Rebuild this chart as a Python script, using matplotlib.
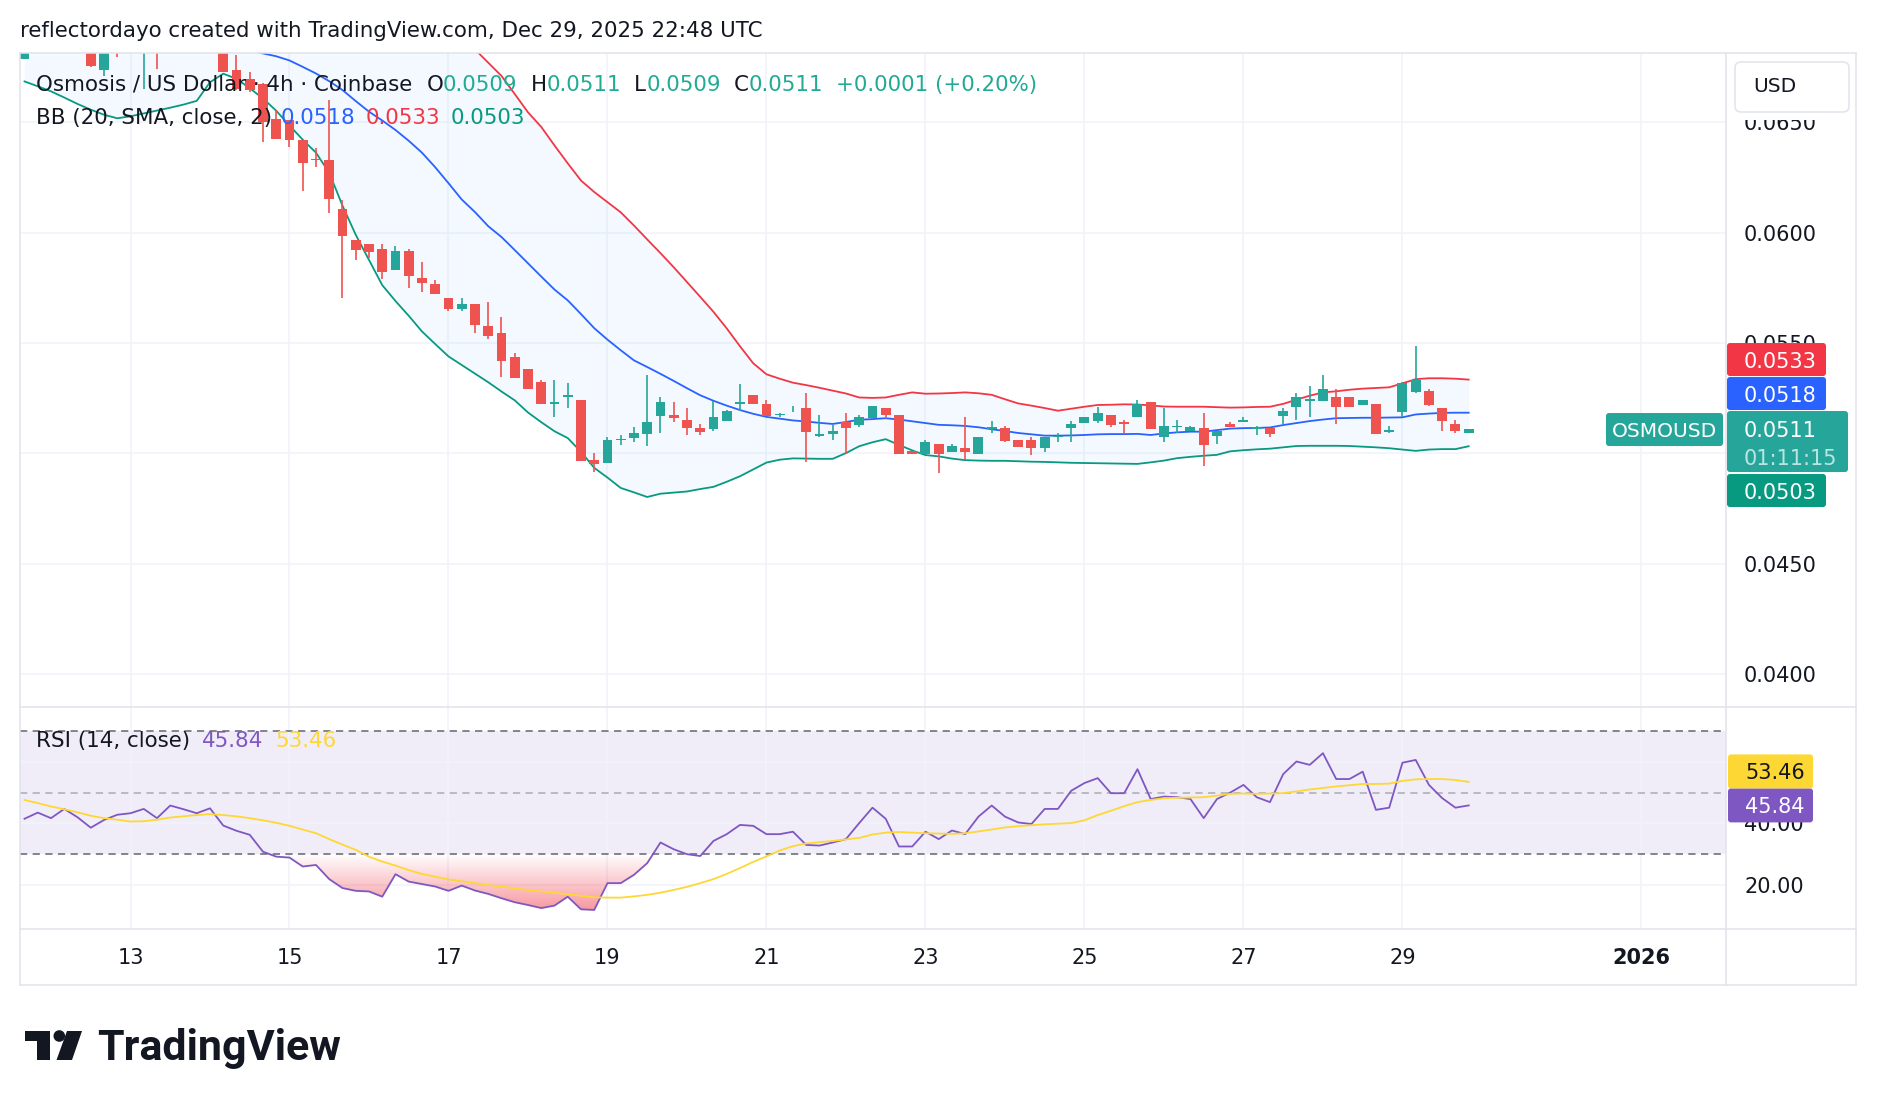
import numpy as np
import pandas as pd
import matplotlib
matplotlib.use("Agg")
import matplotlib.pyplot as plt
from matplotlib.patches import Rectangle, FancyBboxPatch, Circle, Polygon
from matplotlib.colors import LinearSegmentedColormap
from matplotlib.path import Path

# OSMOUSD 4h candles (Coinbase), first bar Dec 11 16:00 UTC
start = pd.Timestamp("2025-12-11 16:00")

opens = [0.06788, 0.0684, 0.0688, 0.0686, 0.0689, 0.0685, 0.06735, 0.0686, 0.0682, 0.0683,
         0.0688, 0.0683, 0.0687, 0.0685, 0.0689, 0.0686, 0.06738, 0.06697, 0.06675, 0.06516,
         0.06509, 0.06418, 0.06335, 0.06328, 0.06106, 0.05966, 0.05948, 0.05924, 0.0583, 0.05916,
         0.05794, 0.05765, 0.05702, 0.05652, 0.05676, 0.05576, 0.05543, 0.05435, 0.05381, 0.05324,
         0.05224, 0.05254, 0.05242, 0.0497, 0.04958, 0.05059, 0.05068, 0.05088, 0.05171, 0.05174,
         0.05151, 0.05114, 0.0511, 0.05148, 0.05222, 0.05264, 0.05224, 0.05172, 0.05185, 0.05204,
         0.05079, 0.05088, 0.05141, 0.05128, 0.05159, 0.05204, 0.05174, 0.05011, 0.04997, 0.05043,
         0.05008, 0.05026, 0.04997, 0.05112, 0.05114, 0.05061, 0.05061, 0.05023, 0.05073, 0.05114,
         0.05139, 0.05148, 0.05174, 0.05143, 0.05163, 0.05232, 0.05072, 0.05118, 0.05100, 0.05114,
         0.05079, 0.05133, 0.0514, 0.05112, 0.05116, 0.05169, 0.05211, 0.05239, 0.05239, 0.05254,
         0.05254, 0.05219, 0.05224, 0.05098, 0.05189, 0.05279, 0.05282, 0.05204, 0.05133, 0.0509]
highs = [0.0688, 0.0690, 0.0693, 0.0691, 0.0692, 0.0688, 0.0686, 0.0689, 0.0690, 0.0692,
         0.0691, 0.0690, 0.0693, 0.0692, 0.0691, 0.0689, 0.06803, 0.06727, 0.0668, 0.06554,
         0.06509, 0.06418, 0.06385, 0.06599, 0.06147, 0.05966, 0.05948, 0.05948, 0.05938, 0.05924,
         0.05867, 0.05785, 0.05702, 0.05702, 0.05676, 0.05684, 0.05616, 0.05453, 0.05381, 0.05332,
         0.05332, 0.05317, 0.05242, 0.05003, 0.05076, 0.05083, 0.05121, 0.05355, 0.05256, 0.05231,
         0.05204, 0.05133, 0.05238, 0.05195, 0.05314, 0.05266, 0.05242, 0.05184, 0.05214, 0.05272,
         0.05174, 0.05129, 0.05182, 0.05174, 0.05214, 0.05204, 0.05174, 0.05011, 0.05061, 0.05043,
         0.05043, 0.05163, 0.05073, 0.05148, 0.05124, 0.05061, 0.05073, 0.05073, 0.05094, 0.05148,
         0.05163, 0.0521, 0.05174, 0.05151, 0.05242, 0.05232, 0.05206, 0.0515, 0.05124, 0.05184,
         0.05101, 0.05143, 0.05166, 0.05124, 0.05116, 0.05204, 0.05275, 0.05305, 0.05355, 0.0529,
         0.05254, 0.05242, 0.05224, 0.05124, 0.05324, 0.05486, 0.0529, 0.05204, 0.05151, 0.0511]
lows = [0.06785, 0.0682, 0.0684, 0.0683, 0.0684, 0.06752, 0.0671, 0.06794, 0.0682, 0.0665,
        0.06743, 0.0682, 0.0683, 0.0683, 0.0683, 0.06727, 0.06644, 0.06637, 0.0641, 0.06423,
        0.06388, 0.06189, 0.06297, 0.06089, 0.05705, 0.05875, 0.05883, 0.05788, 0.0583, 0.05747,
        0.05729, 0.05721, 0.05646, 0.05646, 0.05546, 0.05516, 0.05347, 0.05343, 0.0529, 0.05222,
        0.05166, 0.05207, 0.04967, 0.04917, 0.04958, 0.05038, 0.05053, 0.05034, 0.05094, 0.05143,
        0.05083, 0.05083, 0.05103, 0.05146, 0.05193, 0.05222, 0.05171, 0.05166, 0.05185, 0.04962,
        0.05076, 0.05061, 0.0500, 0.05121, 0.05159, 0.05163, 0.04997, 0.04997, 0.04997, 0.04913,
        0.05008, 0.0497, 0.04997, 0.05094, 0.05053, 0.0503, 0.04993, 0.05008, 0.05053, 0.05053,
        0.05139, 0.05139, 0.05118, 0.05094, 0.05163, 0.05112, 0.05053, 0.05094, 0.05100, 0.04943,
        0.05043, 0.05118, 0.0514, 0.05083, 0.05073, 0.05133, 0.05151, 0.05166, 0.05239, 0.05133,
        0.05211, 0.05219, 0.05088, 0.05094, 0.05163, 0.05275, 0.05214, 0.05103, 0.05094, 0.0509]
closes = [0.0684, 0.0688, 0.0686, 0.0689, 0.0685, 0.06755, 0.0683, 0.0682, 0.0687, 0.0688,
          0.0683, 0.0687, 0.0685, 0.0689, 0.0686, 0.06727, 0.06652, 0.06644, 0.06501, 0.06423,
          0.06418, 0.06315, 0.06328, 0.06151, 0.05985, 0.05923, 0.05913, 0.05822, 0.05916, 0.05804,
          0.05772, 0.05721, 0.05652, 0.05675, 0.05581, 0.05533, 0.0542, 0.05343, 0.0529, 0.05222,
          0.05234, 0.05264, 0.04967, 0.04952, 0.05061, 0.05067, 0.05094, 0.05142, 0.05231, 0.05159,
          0.05114, 0.05095, 0.05163, 0.05192, 0.05231, 0.05222, 0.05171, 0.05178, 0.05188, 0.05098,
          0.05088, 0.05103, 0.05113, 0.05163, 0.05214, 0.05174, 0.04997, 0.04997, 0.05053, 0.04997,
          0.05034, 0.05008, 0.05073, 0.05121, 0.05057, 0.0503, 0.05023, 0.05073, 0.05079, 0.05133,
          0.05163, 0.05184, 0.05128, 0.05133, 0.05224, 0.05112, 0.05124, 0.05124, 0.05117, 0.05038,
          0.05101, 0.05118, 0.05151, 0.05121, 0.05088, 0.05193, 0.05254, 0.05246, 0.0529, 0.05211,
          0.05211, 0.05242, 0.05088, 0.05106, 0.05317, 0.05332, 0.05219, 0.05148, 0.0510, 0.0511]

# Bollinger Bands (20, SMA, close, 2) as drawn
bb_upper = [0.0711, 0.0714, 0.0718, 0.0721, 0.0724, 0.0726, 0.0727, 0.0728, 0.0727, 0.0726,
            0.0725, 0.0723, 0.0722, 0.0718, 0.0708, 0.0700, 0.0699, 0.0700, 0.0701, 0.0705,
            0.0708, 0.0708, 0.0708, 0.0710, 0.0717, 0.0720, 0.0722, 0.0725, 0.0724, 0.0721,
            0.0717, 0.0710, 0.0701, 0.0690, 0.06830, 0.06770, 0.06710, 0.06628, 0.06545, 0.06479,
            0.06395, 0.06314, 0.06236, 0.06184, 0.06138, 0.06092, 0.06032, 0.05969, 0.05907, 0.05843,
            0.05776, 0.05709, 0.05641, 0.05566, 0.05485, 0.05408, 0.05358, 0.05338, 0.05320, 0.05309,
            0.05297, 0.05284, 0.05271, 0.05253, 0.05251, 0.05253, 0.05265, 0.05276, 0.05270, 0.05271,
            0.05273, 0.05276, 0.05272, 0.05265, 0.05245, 0.05226, 0.05216, 0.05205, 0.05193, 0.05202,
            0.05211, 0.05219, 0.05220, 0.05222, 0.05221, 0.05217, 0.05212, 0.05211, 0.05211, 0.05211,
            0.05209, 0.05207, 0.05208, 0.05210, 0.05211, 0.05224, 0.05243, 0.05261, 0.05276, 0.05281,
            0.05288, 0.05293, 0.05296, 0.05299, 0.05317, 0.05336, 0.05340, 0.05340, 0.05338, 0.05334]
bb_basis = [0.0690, 0.0690, 0.0691, 0.0691, 0.0691, 0.0691, 0.0690, 0.0690, 0.0690, 0.0690,
            0.0690, 0.0690, 0.0690, 0.0689, 0.0688, 0.0686, 0.0684, 0.06825, 0.06812, 0.06799,
            0.06780, 0.06751, 0.06721, 0.06686, 0.06646, 0.06596, 0.06548, 0.06508, 0.06465, 0.06416,
            0.06362, 0.06296, 0.06224, 0.06150, 0.06093, 0.06029, 0.05980, 0.05921, 0.05861, 0.05801,
            0.05742, 0.05693, 0.05631, 0.05567, 0.05515, 0.05467, 0.05421, 0.05391, 0.05360, 0.05328,
            0.05295, 0.05263, 0.05238, 0.05216, 0.05196, 0.05179, 0.05165, 0.05157, 0.05149, 0.05144,
            0.05138, 0.05133, 0.05142, 0.05152, 0.05155, 0.05159, 0.05153, 0.05145, 0.05137, 0.05129,
            0.05127, 0.05124, 0.05118, 0.05109, 0.05101, 0.05092, 0.05086, 0.05080, 0.05080, 0.05081,
            0.05083, 0.05086, 0.05087, 0.05087, 0.05088, 0.05083, 0.05090, 0.05095, 0.05098, 0.05098,
            0.05105, 0.05112, 0.05114, 0.05115, 0.05117, 0.05128, 0.05137, 0.05146, 0.05153, 0.05159,
            0.05160, 0.05161, 0.05161, 0.05162, 0.05163, 0.05176, 0.05180, 0.05183, 0.05184, 0.05184]
bb_lower = [0.06685, 0.06663, 0.06640, 0.06612, 0.06583, 0.06557, 0.06534, 0.06518, 0.06527, 0.06540,
            0.06553, 0.06566, 0.06580, 0.06597, 0.06681, 0.06720, 0.06697, 0.06654, 0.06608, 0.06552,
            0.06485, 0.06421, 0.06362, 0.06271, 0.06122, 0.05990, 0.05876, 0.05762, 0.05690, 0.05623,
            0.05552, 0.05495, 0.05439, 0.05400, 0.05361, 0.05322, 0.05280, 0.05240, 0.05185, 0.05141,
            0.05100, 0.05069, 0.05007, 0.04934, 0.04890, 0.04843, 0.04823, 0.04802, 0.04817, 0.04822,
            0.04827, 0.04838, 0.04848, 0.04871, 0.04896, 0.04927, 0.04958, 0.04971, 0.04977, 0.04976,
            0.04975, 0.04975, 0.05001, 0.05032, 0.05050, 0.05064, 0.05038, 0.05013, 0.04992, 0.04986,
            0.04976, 0.04969, 0.04967, 0.04966, 0.04966, 0.04964, 0.04962, 0.04961, 0.04959, 0.04957,
            0.04956, 0.04955, 0.04954, 0.04953, 0.04952, 0.04959, 0.04967, 0.04978, 0.04984, 0.04989,
            0.04993, 0.05009, 0.05014, 0.05018, 0.05021, 0.05027, 0.05033, 0.05034, 0.05034, 0.05034,
            0.05033, 0.05030, 0.05027, 0.05023, 0.05017, 0.05011, 0.05017, 0.05019, 0.05019, 0.05032]

# RSI (14, close) and its moving average
rsi = [41.5, 43.5, 41.7, 44.7, 42.0, 38.6, 41.1, 42.8, 43.3, 44.7,
       41.7, 45.8, 44.6, 43.3, 44.9, 39.3, 37.6, 36.3, 30.8, 29.2,
       28.9, 26.0, 26.5, 21.9, 19.0, 18.1, 17.9, 16.2, 23.5, 21.1,
       20.3, 19.5, 18.1, 19.8, 18.2, 17.1, 15.7, 14.4, 13.5, 12.5,
       13.3, 16.2, 12.1, 11.9, 20.6, 20.6, 23.3, 27.1, 33.8, 31.6,
       30.0, 29.4, 34.3, 36.5, 39.5, 39.2, 36.5, 36.5, 37.3, 33.0,
       32.8, 33.8, 34.9, 40.1, 45.1, 41.5, 32.5, 32.5, 37.3, 34.9,
       37.7, 36.5, 42.2, 45.8, 42.2, 40.3, 39.8, 44.7, 44.7, 50.6,
       53.1, 54.7, 49.8, 49.8, 57.6, 47.9, 48.7, 48.5, 47.9, 41.7,
       47.9, 50.0, 52.5, 48.5, 46.9, 56.0, 60.1, 59.0, 62.8, 54.4,
       54.4, 56.8, 44.4, 45.1, 59.7, 60.6, 52.5, 48.2, 45.1, 45.84]
rsi_ma = [47.6, 46.6, 45.5, 44.6, 43.6, 42.5, 41.7, 41.2, 40.6, 40.7,
          41.2, 41.9, 42.3, 42.7, 43.0, 42.7, 42.3, 41.7, 41.0, 40.2,
          39.2, 38.0, 36.8, 34.9, 33.1, 31.4, 29.2, 27.6, 26.3, 24.8,
          23.6, 22.7, 21.8, 21.2, 20.6, 20.0, 19.5, 18.9, 18.4, 17.9,
          17.5, 17.0, 16.5, 16.0, 15.9, 15.9, 16.3, 16.8, 17.5, 18.4,
          19.4, 20.6, 21.9, 23.6, 25.5, 27.5, 29.3, 31.2, 32.6, 33.5,
          33.9, 34.3, 34.8, 35.3, 36.4, 37.0, 37.2, 37.0, 36.8, 36.7,
          36.6, 36.8, 37.4, 38.0, 38.7, 39.1, 39.4, 39.7, 39.9, 40.1,
          41.0, 42.7, 44.1, 45.6, 46.9, 47.6, 48.2, 48.3, 48.4, 48.5,
          49.0, 49.6, 49.7, 49.6, 49.7, 49.8, 50.4, 51.0, 51.5, 52.0,
          52.4, 52.8, 52.8, 52.9, 53.8, 54.3, 54.4, 54.4, 54.1, 53.46]

day_ticks = ["2025-12-13", "2025-12-15", "2025-12-17", "2025-12-19", "2025-12-21",
             "2025-12-23", "2025-12-25", "2025-12-27", "2025-12-29", "2026-01-01"]
day_labels = ["13", "15", "17", "19", "21", "23", "25", "27", "29", "2026"]
price_ticks = [0.0400, 0.0450, 0.0500, 0.0550, 0.0600, 0.0650]
rsi_ticks = [20, 40, 60]
countdown = "01:11:15"

# ---------------------------------------------------------------
W, H = 1878, 1106
L, R, TOP, MID, BOT, XAX, PR = 20, 1726, 53, 706.6, 929.4, 985, 1856
dark = "#131722"
up_c, dn_c = "#26A69A", "#EF5350"
grid_c, border_c = "#F0F3FA", "#E0E3EB"
FS = 15.4      # legend / header text
AFS = 15       # scale labels


def frac(x0, y0, x1, y1):
    return [x0 / W, 1 - y1 / H, (x1 - x0) / W, (y1 - y0) / H]


fig = plt.figure(figsize=(W / 100, H / 100), dpi=100)
fig.patch.set_facecolor("white")
ax = fig.add_axes(frac(L, TOP, R, MID))
rax = fig.add_axes(frac(L, MID, R, BOT))
ov = fig.add_axes([0, 0, 1, 1], zorder=10)
ov.set_xlim(0, W)
ov.set_ylim(H, 0)
ov.axis("off")

o, h, l, c = (np.array(v) for v in (opens, highs, lows, closes))
x = np.arange(len(c))
tick_x = [(pd.Timestamp(d) - start) / pd.Timedelta(hours=4) for d in day_ticks]

for a in (ax, rax):
    a.set_xlim(-0.34, 128.42)
    a.set_xticks(tick_x)
    a.tick_params(length=0, labelbottom=False, labelleft=False)
    for s in a.spines.values():
        s.set_visible(False)
    a.grid(True, color=grid_c, lw=1.1)
    a.set_axisbelow(True)
ax.set_ylim(0.038523, 0.068138)
ax.set_yticks(price_ticks)
rax.set_ylim(5.58, 77.92)
rax.set_yticks(rsi_ticks)

# Bollinger bands
ax.fill_between(x, bb_lower, bb_upper, color="#2196F3", alpha=0.05, lw=0, zorder=1)
ax.plot(x, bb_upper, color="#F23645", lw=1.3, zorder=2)
ax.plot(x, bb_basis, color="#2962FF", lw=1.3, zorder=2)
ax.plot(x, bb_lower, color="#089981", lw=1.3, zorder=2)

# candles
col = np.where(c >= o, up_c, dn_c)
ax.vlines(x, l, h, colors=col, lw=1.2, zorder=3)
body = np.maximum(np.abs(c - o), 0.00004)
ax.bar(x, body, bottom=np.minimum(o, c), width=0.75, color=col, lw=0, zorder=4)

# RSI pane
r_arr = np.array(rsi)
rax.axhspan(30, 70, color="#7E57C2", alpha=0.1, lw=0, zorder=0.5)
rax.axhline(70, color="#787B86", lw=1.3, dashes=(4, 3), zorder=1)
rax.axhline(30, color="#787B86", lw=1.3, dashes=(4, 3), zorder=1)
rax.axhline(50, color="#787B86", lw=1.3, dashes=(4, 3), alpha=0.5, zorder=1)
fb = rax.fill_between(x, r_arr, 30, where=r_arr < 30, interpolate=True,
                      facecolor="none", edgecolor="none")
red_cmap = LinearSegmentedColormap.from_list(
    "os", [(0.949, 0.212, 0.271, 0.0), (0.949, 0.212, 0.271, 0.85)])
grad = np.linspace(1, 0, 256).reshape(-1, 1)
im = rax.imshow(grad, extent=[x[0], x[-1], 0, 30], origin="lower", aspect="auto",
                cmap=red_cmap, vmin=0, vmax=1, zorder=1.5)
im.set_clip_path(Path.make_compound_path(*fb.get_paths()), transform=rax.transData)
rax.plot(x, r_arr, color="#7E57C2", lw=1.3, zorder=3)
rax.plot(x, rsi_ma, color="#FDD835", lw=1.3, zorder=3)


def xpx(v):
    return ax.transData.transform((v, 0))[0]


def ypx(p):
    return H - ax.transData.transform((0, p))[1]


def rpx(v):
    return H - rax.transData.transform((0, v))[1]


# frame lines
for yy in (TOP, MID, BOT, XAX):
    ov.plot([L, PR], [yy, yy], color=border_c, lw=1.1, zorder=1)
for xx in (L, R, PR):
    ov.plot([xx, xx], [TOP, XAX], color=border_c, lw=1.1, zorder=1)

# header
ov.text(20, 31, "reflectordayo created with TradingView.com, Dec 29, 2025 22:48 UTC",
        fontsize=FS, color=dark, va="center", ha="left")

rend = fig.canvas.get_renderer()


def seq(x0, y0, parts, fs=FS):
    for s, colr, gap in parts:
        t = ov.text(x0, y0, s, fontsize=fs, color=colr, va="center", ha="left", zorder=5)
        x0 += t.get_window_extent(renderer=rend).width + gap


green_t = "#22AB94"
chg = c[-1] - c[-2]
pct = chg / c[-2] * 100
seq(36, 85, [("Osmosis / US Dollar · 4h · Coinbase", dark, 14),
             ("O", dark, 0), (f"{o[-1]:.4f}", green_t, 13),
             ("H", dark, 0), (f"{h[-1]:.4f}", green_t, 13),
             ("L", dark, 0), (f"{l[-1]:.4f}", green_t, 13),
             ("C", dark, 0), (f"{c[-1]:.4f}", green_t, 13),
             (f"{chg:+.4f} ({pct:+.2f}%)", green_t, 0)])
seq(36, 118, [("BB (20, SMA, close, 2)", dark, 9),
              (f"{bb_basis[-1]:.4f}", "#2962FF", 10),
              (f"{bb_upper[-1]:.4f}", "#F23645", 10),
              (f"{bb_lower[-1]:.4f}", "#089981", 0)])
seq(36, 741, [("RSI (14, close)", dark, 12),
              (f"{rsi[-1]:.2f}", "#7E57C2", 12),
              (f"{rsi_ma[-1]:.2f}", "#FDD835", 0)])


def tag(x0, x1, top, hh, fc):
    ov.add_patch(FancyBboxPatch((x0, top), x1 - x0, hh, boxstyle="round,pad=0,rounding_size=3",
                                fc=fc, ec="none", zorder=6))


# value tags on the price scale, stacked around the last close
TH, GAP = 33, 1
covered = []            # vertical extents of the tags, to skip hidden scale labels
cy = ypx(c[-1])
ctop, cbot = cy - 18, cy + 43
tag(1727, 1848, ctop, cbot - ctop, up_c)
covered.append((ctop, cbot))
ov.text(1744, cy, f"{c[-1]:.4f}", fontsize=AFS, color="white", va="center_baseline", zorder=7)
ov.text(1744, cy + 28, countdown, fontsize=AFS, color="white", alpha=0.7,
        va="center_baseline", zorder=7)
tag(1606, 1723, cy - 16, 33, up_c)
ov.text(1664.5, cy, "OSMOUSD", fontsize=14.5, color="white", ha="center",
        va="center_baseline", zorder=7)

edge = ctop
for val, fc in ((bb_basis[-1], "#2962FF"), (bb_upper[-1], "#F23645")):
    yc = min(ypx(val), edge - GAP - TH / 2)
    tag(1727, 1826, yc - TH / 2, TH, fc)
    covered.append((yc - TH / 2, yc + TH / 2))
    ov.text(1744, yc, f"{val:.4f}", fontsize=AFS, color="white", va="center_baseline", zorder=7)
    edge = yc - TH / 2
yc = max(ypx(bb_lower[-1]), cbot + 2 + TH / 2)
tag(1727, 1826, yc - TH / 2, TH, "#089981")
covered.append((yc - TH / 2, yc + TH / 2))
ov.text(1744, yc, f"{bb_lower[-1]:.4f}", fontsize=AFS, color="white", va="center_baseline", zorder=7)

ry = rpx(rsi[-1])
tag(1728, 1813, ry - 17, 34, "#7E57C2")
covered.append((ry - 17, ry + 17))
ov.text(1745, ry, f"{rsi[-1]:.2f}", fontsize=AFS, color="white", va="center_baseline", zorder=7)
my = min(rpx(rsi_ma[-1]), ry - 17 - 17)
tag(1728, 1813, my - 17, 34, "#FDD835")
covered.append((my - 17, my + 17))
ov.text(1745, my, f"{rsi_ma[-1]:.2f}", fontsize=AFS, color=dark, va="center_baseline", zorder=7)


def hidden(yy):
    return any(a0 < yy < a1 for a0, a1 in covered)


# scale labels (those fully under a tag are not visible)
for p in price_ticks:
    if not hidden(ypx(p)):
        ov.text(1744, ypx(p), f"{p:.4f}", fontsize=AFS, color=dark, va="center_baseline", zorder=2)
for v in rsi_ticks:
    if not hidden(rpx(v)):
        ov.text(1744, rpx(v), f"{v:.2f}", fontsize=AFS, color=dark, va="center_baseline", zorder=2)

# currency button on top of the scale
ov.add_patch(Rectangle((1728, 54), 127, 66, fc="white", ec="none", zorder=3))
ov.add_patch(FancyBboxPatch((1735, 62), 114, 50, boxstyle="round,pad=0,rounding_size=6",
                            fc="white", ec=border_c, lw=1.1, zorder=3))
ov.text(1753, 87, "USD", fontsize=14.5, color=dark, va="center", zorder=4)

# time scale
for tx, lab in zip(tick_x, day_labels):
    ov.text(xpx(tx), 958, lab, fontsize=AFS, color=dark, ha="center", va="center",
            fontweight="bold" if len(lab) == 4 else "normal")

# TradingView logo
logo = "#131722"
ov.add_patch(Rectangle((25, 1031), 25, 10, fc=logo, ec="none"))
ov.add_patch(Rectangle((37, 1031), 13, 29, fc=logo, ec="none"))
ov.add_patch(Circle((59.3, 1036), 5.8, fc=logo, ec="none"))
ov.add_patch(Polygon([(67, 1031), (82, 1031), (72, 1060), (56.5, 1060)], fc=logo, ec="none"))
ov.text(97, 1060, "TradingView", fontsize=31, fontweight="bold", family="Roboto",
        color=logo, va="baseline", ha="left")

fig.savefig("out.png", dpi=100, facecolor="white")
